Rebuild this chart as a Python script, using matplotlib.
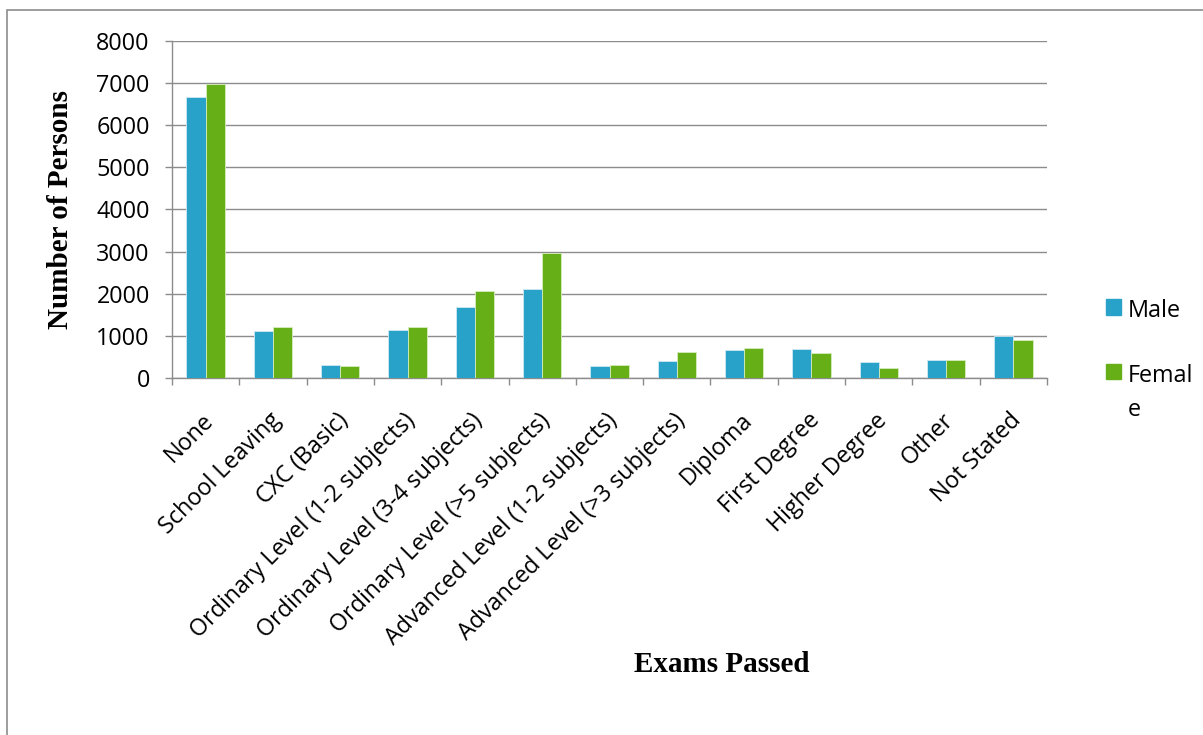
# Exams passed by sex - grouped bar chart

import matplotlib
matplotlib.use('Agg')
from matplotlib import pyplot as plt
from matplotlib.patches import Patch, Rectangle
from matplotlib.offsetbox import HPacker
import matplotlib.transforms as mtransforms
import numpy as np

categories = ['None', 'School Leaving', 'CXC (Basic)',
              'Ordinary Level (1-2 subjects)', 'Ordinary Level (3-4 subjects)',
              'Ordinary Level (>5 subjects)', 'Advanced Level (1-2 subjects)',
              'Advanced Level (>3 subjects)', 'Diploma', 'First Degree',
              'Higher Degree', 'Other', 'Not Stated']
male = [6660, 1126, 315, 1150, 1693, 2102, 285, 411, 664, 696, 379, 435, 1004]
female = [6970, 1213, 291, 1220, 2063, 2961, 316, 625, 704, 601, 237, 430, 909]
yticks = [0, 1000, 2000, 3000, 4000, 5000, 6000, 7000, 8000]

male_color = '#28a2c9'
female_color = '#66af16'
grid_color = '#8c8c8c'
tick_font = 'Open Sans'
fs = 16.8

W, H = 1203, 735
fig = plt.figure(figsize=(W / 100, H / 100), dpi=100)
ax = fig.add_axes([172 / W, 1 - 378 / H, (1047 - 172) / W, (378 - 41) / H])

x = np.arange(len(categories))
bw = 0.285
ax.bar(x - bw / 2, male, bw, color=male_color, edgecolor='#cfe9f3', linewidth=0.6,
       label='Male', zorder=3)
ax.bar(x + bw / 2, female, bw, color=female_color, edgecolor='#d6ecbf', linewidth=0.6,
       label='Femal\ne', zorder=3)

ax.set_xlim(-0.5, len(categories) - 0.5)
ax.set_ylim(0, 8000)
ax.set_yticks(yticks)
ax.set_yticklabels([str(v) for v in yticks], fontsize=fs, family=tick_font)
ax.yaxis.grid(True, color=grid_color, linewidth=1.0, zorder=0)

# tick marks sit between the groups, labels at the group centres
ax.set_xticks(np.arange(len(categories) + 1) - 0.5)
ax.set_xticklabels([])
ax.set_xticks(x, minor=True)
ax.set_xticklabels(categories, minor=True, rotation=45, ha='right', va='top',
                   rotation_mode='anchor', fontsize=fs, family=tick_font)
ax.tick_params(axis='x', which='major', length=5, width=1, color=grid_color)
ax.tick_params(axis='x', which='minor', length=0, pad=22)
ax.tick_params(axis='y', length=5, width=1, color=grid_color, pad=11)
offset = mtransforms.ScaledTranslation(-4 / 100, 0, fig.dpi_scale_trans)
for lab in ax.get_xticklabels(minor=True):
    lab.set_transform(lab.get_transform() + offset)

for side in ['top', 'right']:
    ax.spines[side].set_visible(False)
for side in ['left', 'bottom']:
    ax.spines[side].set_color(grid_color)
    ax.spines[side].set_linewidth(1.0)

ax.set_ylabel('Number of Persons', fontsize=21, fontweight='bold',
              family='Liberation Serif')
ax.yaxis.set_label_coords(74 / W, 1 - 209.5 / H, transform=fig.transFigure)
fig.text(722 / W, 1 - 665 / H, 'Exams Passed', fontsize=21, fontweight='bold',
         family='Liberation Serif', ha='center', va='center')

handles = [Patch(color=male_color), Patch(color=female_color)]
leg = fig.legend(handles, ['Male', 'Femal\ne'], loc='upper left',
                 bbox_to_anchor=(1085 / W, 1 - 278 / H), frameon=False,
                 prop={'family': tick_font, 'size': fs}, handlelength=0.65,
                 handleheight=0.65, handletextpad=0.3, labelspacing=1.75)
for t in leg.get_texts():
    t.set_linespacing(1.55)
for col in leg._legend_handle_box.get_children():
    for item in col.get_children():
        if isinstance(item, HPacker):
            item.align = 'top'

# outer chart-area border
fig.add_artist(Rectangle((7 / W, -0.1), 1.5, 1.1 - 10 / H, transform=fig.transFigure,
                         fill=False, edgecolor=grid_color, linewidth=1.2))

plt.savefig('out.png', dpi=100)
